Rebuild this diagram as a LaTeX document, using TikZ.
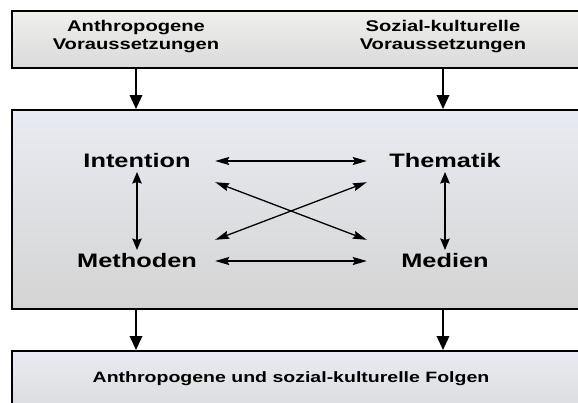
\documentclass[tikz,border=0pt]{standalone}
\usepackage{fontspec}
\newfontfamily\diagfont[FakeStretch=1.3]{Liberation Sans}
\usetikzlibrary{calc}
\usetikzlibrary{positioning}
\usetikzlibrary{arrows.meta}
\usetikzlibrary{shadows}
\definecolor{paleTop}{HTML}{EFEFEC}
\definecolor{paleBot}{HTML}{DADADA}
\definecolor{blueTop}{HTML}{E8EBF2}
\definecolor{greyBot}{HTML}{D4D4D4}

\begin{document}
\begin{tikzpicture}[x=1pt,y=-1pt,
	  box node/.style={draw=black,line width=2pt,anchor=north west,minimum width=620pt,inner sep=0pt,
	    drop shadow={shadow xshift=-1.2pt,shadow yshift=-1.2pt,fill=black!45}},
	  head text/.style={font=\diagfont\bfseries\fontsize{15.5}{18}\selectfont,align=center,inner sep=0pt},
	  term node/.style={font=\diagfont\bfseries\fontsize{19.5}{23}\selectfont,minimum width=156pt,minimum height=42pt,inner sep=0pt},
	  big arrow/.style={-{Triangle[length=14pt,width=12.5pt]},line width=2pt},
	  pair arrow/.style={<->,>={Stealth[length=14pt,width=8pt,inset=2pt]},line width=1.3pt},
	  up arrow/.style={<->,>={Stealth[length=11.5pt,width=9.5pt,inset=1.5pt]},line width=1.3pt}]

	  \useasboundingbox (0,0) rectangle (578,402);
	  \fill[white] (0,0) rectangle (578,402);
	  \clip (0,0) rectangle (578,402);

	  % the three boxes
	  \node[box node, minimum height=57pt, top color=paleTop, bottom color=paleBot] (topbox) at (11,10) {};
	  \node[box node, minimum height=199pt, top color=blueTop, bottom color=greyBot] (midbox) at (11,109) {};
	  \node[box node, minimum height=90pt, top color=blueTop, bottom color=greyBot] (botbox) at (11,350) {};

	  \node[head text] (anthro) at (136,37) {Anthropogene\\Voraussetzungen};
	  \node[head text] (sozial) at (443,37) {Sozial-kulturelle\\Voraussetzungen};
	  \node[head text, font=\diagfont\bfseries\fontsize{15}{17}\selectfont] (folgen) at (291,379) {Anthropogene und sozial-kulturelle Folgen};

	  \node[term node] (intention) at (137,161) {Intention};
	  \node[term node] (thematik)  at ($ (intention) + (308,0) $) {Thematik};
	  \node[term node] (methoden)  at ($ (intention) + (0,100) $) {Methoden};
	  \node[term node] (medien)    at ($ (thematik) + (0,100) $) {Medien};

	  \draw[big arrow] (anthro |- topbox.south) -- (anthro |- midbox.north);
	  \draw[big arrow] (sozial |- topbox.south) -- (sozial |- midbox.north);
	  \draw[big arrow] (anthro |- midbox.south) -- (anthro |- botbox.north);
	  \draw[big arrow] (sozial |- midbox.south) -- (sozial |- botbox.north);

	  \draw[pair arrow] (intention.east) -- (thematik.west);
	  \draw[pair arrow] (methoden.east) -- (medien.west);
	  \draw[pair arrow] (intention.south east) -- (medien.north west);
	  \draw[pair arrow] (methoden.north east) -- (thematik.south west);
	  \draw[up arrow, shorten <=11pt, shorten >=11pt] (intention.center) -- (methoden.center);
	  \draw[up arrow, shorten <=11pt, shorten >=11pt] (thematik.center) -- (medien.center);
	\end{tikzpicture}
\end{document}
